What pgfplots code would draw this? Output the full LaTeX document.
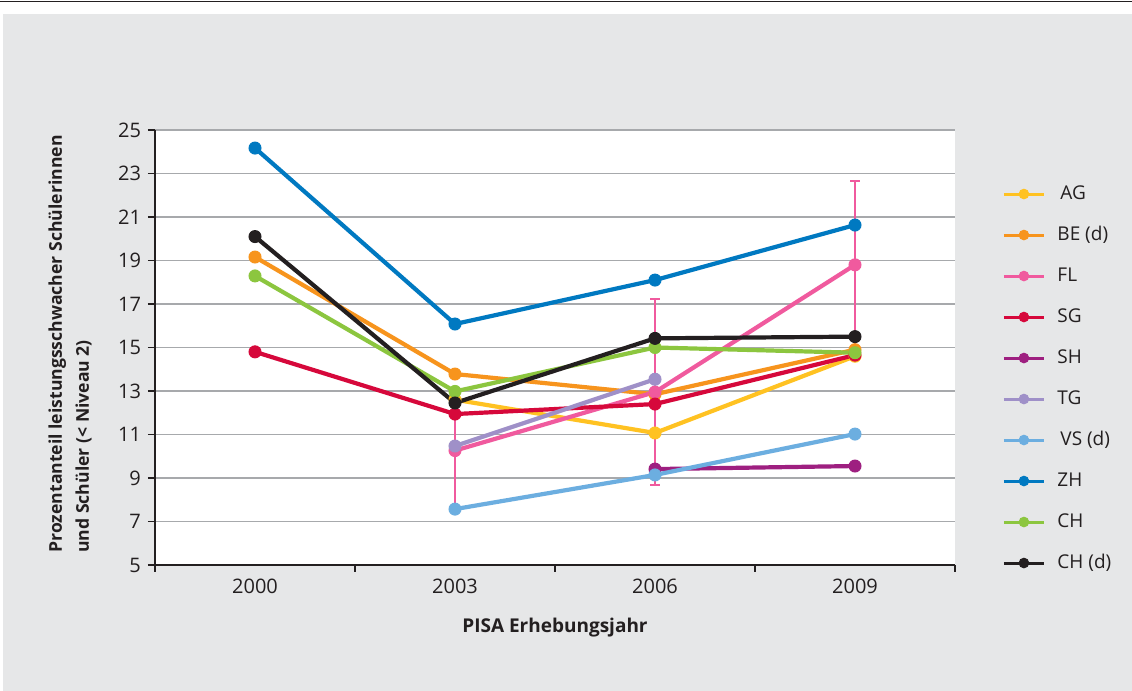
\documentclass[border=0pt]{standalone}
\usepackage{fontspec}
\setmainfont{Open Sans}
\usepackage{pgfplots}
\pgfplotsset{compat=1.18}

\definecolor{cAG}{HTML}{FFC222}
\definecolor{cBE}{HTML}{F7941D}
\definecolor{cFL}{HTML}{F05A9E}
\definecolor{cSG}{HTML}{D6083B}
\definecolor{cSH}{HTML}{9E1F80}
\definecolor{cTG}{HTML}{9F90C8}
\definecolor{cVS}{HTML}{6CAEE0}
\definecolor{cZH}{HTML}{0079C1}
\definecolor{cCH}{HTML}{8CC63F}
\definecolor{cCHd}{HTML}{231F20}
\definecolor{bggray}{HTML}{E6E7E8}
\definecolor{gridgray}{HTML}{A7A9AC}
\definecolor{txt}{HTML}{231F20}

\begin{document}
\begin{tikzpicture}[x=0.5pt,y=0.5pt]
\useasboundingbox (0,0) rectangle (1132,691);
\fill[bggray] (3,0) rectangle (1132,677);
\draw[line width=0.8pt, txt] (0,689.6) -- (1132,689.6);

\begin{axis}[
  at={(77.5pt,63pt)}, anchor=south west,
  scale only axis, width=400pt, height=217.5pt,
  axis background/.style={fill=white},
  xmin=-0.5, xmax=3.5, ymin=5, ymax=25,
  axis x line*=bottom, axis y line*=left,
  axis line style={line width=0.75pt, txt},
  xtick={0,1,2,3}, xticklabels={2000,2003,2006,2009},
  minor xtick={-0.5,0.5,1.5,2.5,3.5},
  ytick={5,7,...,25},
  tick align=outside,
  major tick length=3.5pt, minor tick length=3.5pt,
  x tick style={draw=none},
  minor x tick style={draw=txt, line width=0.75pt},
  y tick style={draw=txt, line width=0.75pt},
  ymajorgrids, grid style={gridgray, line width=0.75pt},
  tick label style={font=\fontsize{10}{12}\selectfont, color=txt},
  /pgf/number format/assume math mode=true,
  xlabel={PISA Erhebungsjahr},
  xlabel style={font=\bfseries\fontsize{9.5}{11}\selectfont, color=txt,
    at={(axis description cs:0.5,-0.156)}, anchor=base},
  every axis plot/.append style={line width=2.1pt, mark=*, mark size=3pt,
    mark options={line width=0.5pt}},
  legend image code/.code={
    \draw[line width=1.5pt, mark size=2.4pt, mark repeat=2, mark phase=2]
      plot coordinates {(0pt,0pt) (10pt,0pt) (20pt,0pt)};},
  legend style={at={(1.0588,0.4287)}, anchor=west, draw=none, fill=none,
    inner sep=0pt, font=\fontsize{9.5}{11}\selectfont, text=txt,
    nodes={inner sep=0pt, text height=7pt, text depth=2pt},
    row sep=11.5pt,
    /tikz/every odd column/.append style={column sep=6pt}},
  legend cell align=left,
]
\addplot[cAG] coordinates {(1,12.6) (2,11.07) (3,14.6)};
\addlegendentry{\hspace{1.5pt}AG}
\addplot[cBE] coordinates {(0,19.16) (1,13.78) (2,12.85) (3,14.9)};
\addlegendentry{BE (d)}
\addplot[cFL, error bars/.cd, y dir=both, y explicit,
  error bar style={line width=1.2pt, cFL},
  error mark options={rotate=90, line width=1.2pt, mark size=2.3pt, cFL}]
  coordinates {(1,10.26) +- (0,2.73) (2,12.95) +- (0,4.28) (3,18.8) +- (0,3.85)};
\addlegendentry{FL}
\addplot[cSG] coordinates {(0,14.8) (1,11.94) (2,12.4) (3,14.65)};
\addlegendentry{SG}
\addplot[cSH] coordinates {(2,9.41) (3,9.55)};
\addlegendentry{SH}
\addplot[cTG] coordinates {(1,10.47) (2,13.54)};
\addlegendentry{TG}
\addplot[cVS] coordinates {(1,7.57) (2,9.14) (3,11.02)};
\addlegendentry{\hspace{1.5pt}VS (d)}
\addplot[cZH] coordinates {(0,24.17) (1,16.08) (2,18.1) (3,20.63)};
\addlegendentry{ZH}
\addplot[cCH] coordinates {(0,18.29) (1,12.98) (2,15.0) (3,14.76)};
\addlegendentry{CH}
\addplot[cCHd] coordinates {(0,20.1) (1,12.45) (2,15.42) (3,15.5)};
\addlegendentry{CH (d)}
\end{axis}

\node[rotate=90, anchor=north west, align=left, inner sep=0pt, text=txt,
  font=\bfseries\fontsize{8.8}{13.5}\selectfont] at (48,138)
  {Prozentanteil leistungsschwacher Schülerinnen\\und Schüler (< Niveau 2)};
\end{tikzpicture}
\end{document}
